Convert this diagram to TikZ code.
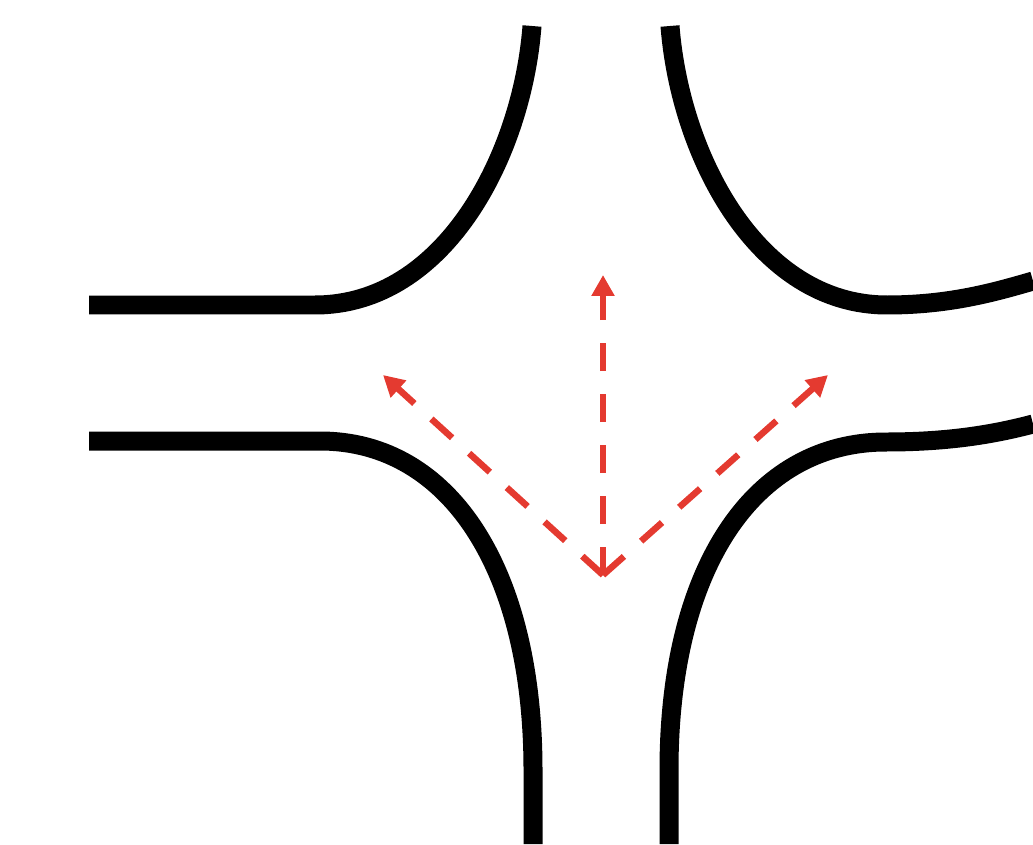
\documentclass[tikz,border=0pt]{standalone}
\usepackage{tikz}
\usetikzlibrary{arrows.meta}

\definecolor{arrowred}{RGB}{228,58,48}

\begin{document}
\begin{tikzpicture}[
  x=0.02cm, y=-0.02cm,
  kerb/.style={draw=black, line width=0.38cm, line cap=butt},
  move/.style={draw=arrowred, line width=0.13cm, dash pattern=on 0.56cm off 0.46cm,
    -{Triangle[length=0.42cm, width=0.44cm]}}
]
\useasboundingbox (0,0) rectangle (1033,844);

% ---------- ROAD EDGES ----------
\draw[kerb] (89,305) -- (315,305) .. controls (445,305) and (522,155) .. (532,26);
\draw[kerb] (670,26) .. controls (680,155) and (757,305) .. (887,305)
  .. controls (950,305) and (995,292) .. (1033,281);
\draw[kerb] (89,441) -- (320,441) .. controls (450,441) and (533,570) .. (533,770) -- (533,844);
\draw[kerb] (1033,424) .. controls (995,434) and (950,442) .. (886,442)
  .. controls (752,442) and (669,570) .. (669,770) -- (669,844);

% ---------- TURNING MOVEMENTS ----------
\coordinate (start) at (603,575);
\coordinate (left) at (383,375);
\coordinate (ahead) at (603,275);
\coordinate (right) at (828,375);

\draw[move] (start) -- (left);
\draw[move] (start) -- (ahead);
\draw[move] (start) -- (right);

\end{tikzpicture}
\end{document}
